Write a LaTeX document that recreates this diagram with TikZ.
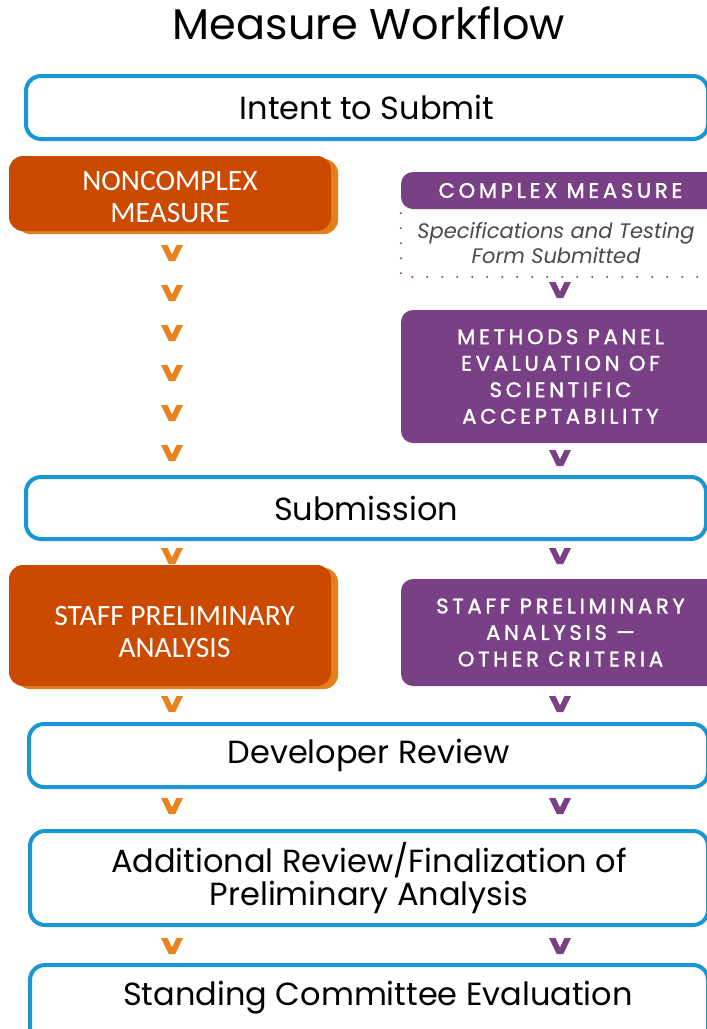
\documentclass[tikz,border=0pt]{standalone}
\usepackage{fontspec}
\setmainfont{Poppins}
\newfontfamily\calibfont{Carlito}
\newfontfamily\capsfont[LetterSpace=18, FakeBold=1.6]{Poppins}
\usetikzlibrary{shadows}
\definecolor{boxblue}{HTML}{1A96D4}
\definecolor{ncorange}{HTML}{CC4A00}
\definecolor{ncshade}{HTML}{E2801F}
\definecolor{vorange}{HTML}{E8821E}
\definecolor{cxpurple}{HTML}{7A4085}
\definecolor{notegray}{HTML}{4A4A4A}
\tikzset{
  bluebox/.style={draw=boxblue, line width=4pt, rounded corners=15pt, fill=white,
    inner sep=0pt, align=center, font=\fontsize{32}{33}\selectfont},
  orangebox/.style={fill=ncorange, rounded corners=14pt, inner sep=0pt,
    drop shadow={shadow xshift=7pt, shadow yshift=-3pt, fill=ncshade, opacity=1}},
  orangetext/.style={text=white, align=center, font=\calibfont\fontsize{29.5}{31.5}\selectfont},
  purplebox/.style={fill=cxpurple, rounded corners=12pt, text=white, inner sep=0pt,
    align=center, font=\capsfont\fontsize{21}{26.5}\selectfont},
  chev/.pic={\fill (-11,-8) -- (-4.5,-8) -- (0,1.5) -- (4.5,-8) -- (11,-8) -- (3.2,8) -- (-3.2,8) -- cycle;}
}
\begin{document}
\begin{tikzpicture}[x=1pt, y=-1pt]
\useasboundingbox (0,0) rectangle (707,1029);
\fill[white] (0,0) rectangle (707,1029);
\node[font=\fontsize{43}{46}\selectfont, anchor=base] (title) at (369,39) {Measure Workflow};
% chevrons, left column
\pic[vorange] at (172,253) {chev};
\pic[vorange] at (172,293) {chev};
\pic[vorange] at (172,333) {chev};
\pic[vorange] at (172,373) {chev};
\pic[vorange] at (172,413) {chev};
\pic[vorange] at (172,453) {chev};
\pic[vorange] at (172,556) {chev};
\pic[vorange] at (172,704) {chev};
\pic[vorange] at (172,806) {chev};
\pic[vorange] at (172,946) {chev};
% chevrons, right column
\pic[cxpurple] at (560,290) {chev};
\pic[cxpurple] at (560,458) {chev};
\pic[cxpurple] at (560,556) {chev};
\pic[cxpurple] at (560,704) {chev};
\pic[cxpurple] at (560,806) {chev};
\pic[cxpurple] at (560,946) {chev};

\node[bluebox, minimum width=682pt, minimum height=63pt] (intent) at (367,107.5) {Intent to Submit};
\node[orangebox, minimum width=322pt, minimum height=75pt] (noncomplex) at (170,193.5) {};
\node[orangetext] (noncomplextext) at (170,197) {NONCOMPLEX\\MEASURE};
\node[purplebox, minimum width=319pt, minimum height=37pt] (complex) at (560.5,190.5) {COMPLEX MEASURE};
\node[font=\itshape\fontsize{21}{25}\selectfont, text=notegray, align=center] (spectext) at (556,243) {Specifications and Testing\\Form Submitted};
\coordinate (dotcorner) at (401,277);
\coordinate (dotend) at (707,277);
\draw[cxpurple, line width=2.2pt, line cap=round, dash pattern=on 0pt off 15pt] ([yshift=-4pt]complex.south west) -- (dotcorner) -- (dotend);
\node[purplebox, minimum width=319pt, minimum height=133pt] (methods) at (560.5,376.5) {METHODS PANEL\\EVALUATION OF\\SCIENTIFIC\\ACCEPTABILITY};

\node[bluebox, minimum width=680pt, minimum height=62pt] (submission) at (366,508) {Submission};
\node[orangebox, minimum width=322pt, minimum height=121pt] (staff) at (170,625.5) {};
\node[orangetext] (stafftext) at (174.5,632) {STAFF PRELIMINARY\\ANALYSIS};
\node[purplebox, minimum width=319pt, minimum height=107pt] (staffother) at (560.5,632.5) {STAFF PRELIMINARY\\ANALYSIS —\\OTHER CRITERIA};

\node[bluebox, minimum width=679pt, minimum height=63pt] (developer) at (368.5,755.5) {Developer Review};
\node[bluebox, minimum width=678pt, minimum height=94pt] (additional) at (369,878) {Additional Review/Finalization of\\Preliminary Analysis};
\node[bluebox, minimum width=678pt, minimum height=100pt] (standing) at (369,1015) {};
\node[font=\fontsize{32}{33}\selectfont] (standingtext) at (378,998) {Standing Committee Evaluation};
\end{tikzpicture}
\end{document}
